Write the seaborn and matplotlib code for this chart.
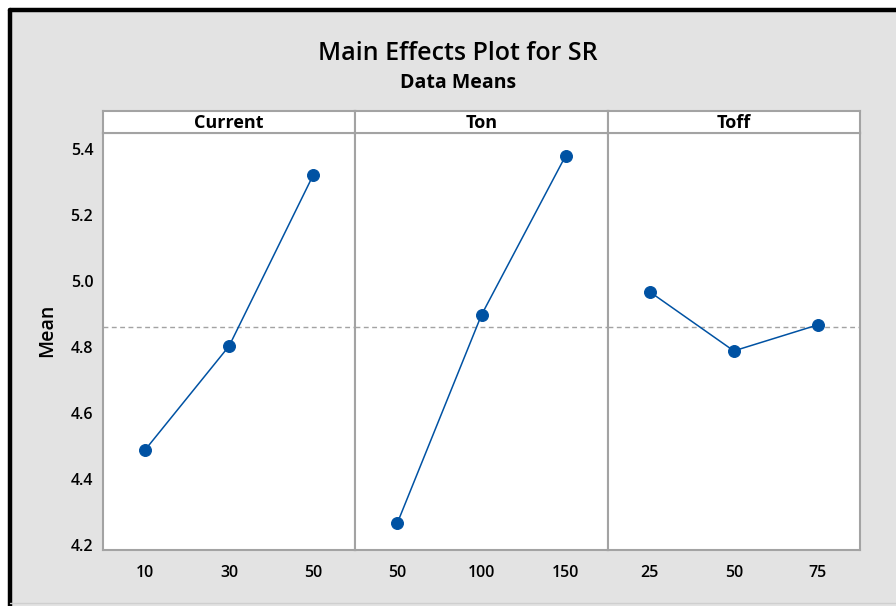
import pandas as pd
import seaborn as sns
import matplotlib.pyplot as plt
from matplotlib.lines import Line2D
from matplotlib.patches import Rectangle

# factor levels and their data means
factors = ['Current', 'Ton', 'Toff']
current_levels = ['10', '30', '50']
current_means = [4.488, 4.803, 5.321]
ton_levels = ['50', '100', '150']
ton_means = [4.267, 4.897, 5.379]
toff_levels = ['25', '50', '75']
toff_means = [4.967, 4.788, 4.867]
overall_mean = 4.861
y_ticks = [4.2, 4.4, 4.6, 4.8, 5.0, 5.2, 5.4]

levels = [current_levels, ton_levels, toff_levels]
means = [current_means, ton_means, toff_means]

df = pd.concat([
    pd.DataFrame({'factor': f, 'level': lv, 'mean': mn})
    for f, lv, mn in zip(factors, levels, means)
])

sns.set_style('white')
plt.rcParams['font.family'] = ['Open Sans', 'DejaVu Sans']
plt.rcParams['text.color'] = 'black'
plt.rcParams['axes.labelcolor'] = 'black'

W, H = 896, 606
fig = plt.figure(figsize=(W / 100, H / 100), dpi=100)
fig.patch.set_facecolor('white')

bg = '#e3e3e3'
grey = '#a3a3a3'
blue = '#0052a3'

# panel background + black frame like the Minitab export
fig.add_artist(Rectangle((10 / W, 0), 1, 1 - 10 / H, transform=fig.transFigure,
                         facecolor=bg, edgecolor='none', zorder=-10))
fig.add_artist(Line2D([10 / W, 1], [1 - 10 / H, 1 - 10 / H], transform=fig.transFigure,
                      color='black', lw=3.2))
fig.add_artist(Line2D([10 / W, 10 / W], [0, 1 - 10 / H], transform=fig.transFigure,
                      color='black', lw=3.2))
fig.add_artist(Line2D([10 / W, 1], [3 / H, 3 / H], transform=fig.transFigure,
                      color='#cfcfcf', lw=1))

left, right = 103, 860
top, bottom = 133, 550
strip_top = 111
pw = (right - left) / 3

axes = []
for i, f in enumerate(factors):
    x0 = (left + i * pw) / W
    ax = fig.add_axes([x0, 1 - bottom / H, pw / W, (bottom - top) / H])
    sub = df[df['factor'] == f]
    sns.pointplot(data=sub, x='level', y='mean', order=levels[i], color=blue,
                  errorbar=None, markers='o', markersize=8.5, linewidth=1.1, ax=ax)
    ax.axhline(overall_mean, color=grey, lw=1, ls=(0, (3.5, 2.5)), zorder=0)
    ax.set_xlim(-0.5, 2.5)
    ax.set_ylim(4.185, 5.448)
    ax.set_yticks(y_ticks)
    ax.set_xlabel('')
    ax.set_ylabel('')
    ax.set_facecolor('white')
    for s in ax.spines.values():
        s.set_color(grey)
        s.set_linewidth(1.5)
    ax.tick_params(axis='both', which='both', direction='out', color=grey,
                   length=5, width=1, labelsize=11.5, labelcolor='black', pad=6)
    ax.tick_params(axis='y', length=4, pad=3)
    for lab in ax.get_xticklabels():
        lab.set_fontweight('semibold')
    if i > 0:
        ax.tick_params(axis='y', left=False, labelleft=False)
    else:
        ax.set_yticklabels([f'{v:.1f}' for v in y_ticks], fontweight='semibold')
        ax.set_ylabel('Mean', fontsize=14, fontweight='semibold')
        ax.yaxis.set_label_coords(-0.183, 0.526)

    # strip header
    sax = fig.add_axes([x0, 1 - top / H, pw / W, (top - strip_top) / H])
    sax.set_xticks([])
    sax.set_yticks([])
    sax.set_facecolor('white')
    for s in sax.spines.values():
        s.set_color(grey)
        s.set_linewidth(1.5)
    sax.text(0.5, 0.45, f, ha='center', va='center', fontsize=13,
             fontweight='bold', transform=sax.transAxes)
    axes.append(ax)

fig.text(0.511, 1 - 53 / H, 'Main Effects Plot for SR', ha='center', va='center',
         fontsize=18, fontweight='semibold')
fig.text(0.511, 1 - 83 / H, 'Data Means', ha='center', va='center',
         fontsize=14, fontweight='bold')

fig.savefig('out.png', dpi=100, facecolor=fig.get_facecolor())
